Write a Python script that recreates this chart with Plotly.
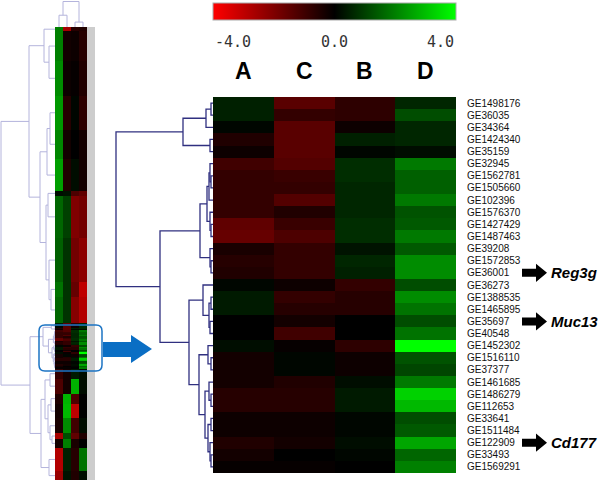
import plotly.graph_objects as go

# ---------------- data ----------------
genes = ["GE1498176", "GE36035", "GE34364", "GE1424340", "GE35159", "GE32945",
         "GE1562781", "GE1505660", "GE102396", "GE1576370", "GE1427429", "GE1487463",
         "GE39208", "GE1572853", "GE36001", "GE36273", "GE1388535", "GE1465895",
         "GE35697", "GE40548", "GE1452302", "GE1516110", "GE37377", "GE1461685",
         "GE1486279", "GE112653", "GE33641", "GE1511484", "GE122909", "GE33493",
         "GE1569291"]
samples = ["A", "C", "B", "D"]
val_A = [0.5, 0.5, 0.1, -0.5, -0.2, -1.0, -0.8, -0.8, -0.8, -0.8, -1.5, -1.6, -0.4, -0.6, -0.5,
         0.1, 0.4, 0.4, 0.0, 0.0, 0.2, -0.3, -0.3, -0.3, -0.6, -0.6, -0.2, -0.2, -0.5, -0.3, -0.1]
val_C = [-1.4, -0.8, -1.4, -1.4, -1.4, -1.3, -0.9, -0.8, -1.3, -0.5, -0.9, -1.2, -0.8, -0.8, -0.8,
         -0.2, -0.8, -0.6, -0.3, -1.0, -0.1, 0.1, 0.1, -0.5, -0.6, -0.6, -0.2, -0.2, -0.3, 0.0, -0.1]
val_B = [-0.7, -0.7, -0.2, 0.5, 0.1, 0.7, 0.7, 0.6, 0.6, 0.6, 0.7, 0.7, 0.3, 0.6, 0.5,
         -0.8, -0.6, -0.6, 0.0, 0.0, -0.7, -0.2, -0.2, 0.2, 0.4, 0.4, 0.1, 0.1, 0.2, 0.1, 0.0]
val_D = [0.6, 1.2, 0.6, 0.6, 0.2, 1.9, 1.5, 1.5, 1.9, 1.3, 1.4, 1.9, 1.4, 2.2, 2.2,
         1.2, 2.2, 1.8, 1.2, 1.8, 4.0, 1.3, 1.1, 1.9, 3.3, 2.9, 1.2, 1.4, 2.6, 1.6, 2.0]

marker_genes = ["GE36001", "GE35697", "GE122909"]
marker_symbols = ["Reg3g", "Muc13", "Cd177"]

color_ticks = [-4.0, 0.0, 4.0]

# row dendrogram of the zoomed cluster: (left, right, height)
main_tree = (
    (((0, 1, 2), 2, 7), (3, 4, 3), 30),
    (
        ((((5, (6, 7, 2), 3), 8, 4), (9, (10, 11, 2), 3), 6), (12, (13, 14, 2), 3), 13),
        ((15, ((16, 17, 2), (18, 19, 3), 4), 10),
         ((20, (21, 22, 2), 5),
          ((23, (24, 25, 2), 4), ((26, 27, 2), (28, (29, 30, 2), 3), 5), 8), 14), 24),
        53),
    97)

# overview heatmap blocks (gene counts and block values) above / below the zoomed cluster
top_counts = [3, 20, 24, 23, 20, 22, 3, 29, 30, 10, 18]
top_A = [2.0, 2.0, 2.2, 2.4, 2.1, 2.5, 0.2, 1.6, 1.5, 1.8, 1.6]
top_C = [-2.6, -0.3, -0.2, -0.6, -0.3, -0.5, 0.3, 1.0, 0.8, 0.8, 0.8]
top_B = [-0.6, -0.2, -0.1, 0.1, 0.0, 0.2, -1.2, -2.0, -1.8, -1.6, -2.1]
top_D = [-0.5, -0.6, -0.5, -0.7, -0.3, -0.3, -1.5, -1.8, -2.2, -3.0, -2.8]
bot_counts = [7, 10, 7, 10, 10, 4, 6, 16, 6]
bot_A = [-0.8, -1.2, -0.5, -0.3, -0.4, -2.6, -0.3, -2.8, -2.4]
bot_C = [-0.3, -0.3, 2.8, 2.9, 2.2, 1.2, 2.0, 0.5, 0.3]
bot_B = [0.4, 2.8, -1.2, -3.0, -1.0, -1.5, -0.4, -0.6, -0.5]
bot_D = [0.2, 0.2, 0.0, 0.0, 0.2, -0.5, 0.0, 1.8, 0.2]

# overview row tree: leaves 0-10 top blocks, 11-41 cluster genes, 42-50 bottom blocks
overview_top_tree = ((0, (1, 2, 6), 11),
                     (((3, 4, 5), 5, 8), ((6, 7, 7), (8, (9, 10, 4), 6), 9), 15), 26)
overview_bot_tree = ((((42, 43, 5), ((44, 45, 4), (46, (47, 48, 3), 5), 7), 10), (49, 50, 6), 14))
overview_box_height = 12
overview_bb_height = 25
overview_root_height = 54
column_tree = ((0, 1, 12), (2, 3, 5), 26)

# ---------------- helpers ----------------
W, H = 600, 486
def px(x):
    return x / W
def py(y):
    return 1 - y / H

def remap(node, offset, scale):
    if isinstance(node, int):
        return node + offset
    l, r, h = node
    return (remap(l, offset, scale), remap(r, offset, scale), h * scale)

def dendro(node, leaf_pos, hs, ps):
    if isinstance(node, int):
        return leaf_pos[node], 0.0
    l, r, h = node
    pl, hl = dendro(l, leaf_pos, hs, ps)
    pr, hr = dendro(r, leaf_pos, hs, ps)
    hs += [hl, h, h, hr, None]
    ps += [pl, pl, pr, pr, None]
    return (pl + pr) / 2, h

cols = {"A": val_A, "C": val_C, "B": val_B, "D": val_D}
n = len(genes)
z_main = [[cols[s][i] for s in samples] for i in range(n)]

cscale = [[0, "rgb(255,0,0)"], [0.5, "rgb(0,0,0)"], [1, "rgb(0,255,0)"]]

fig = go.Figure()

# main heatmap
fig.add_trace(go.Heatmap(
    z=z_main, x=list(range(4)), y=list(range(n)), colorscale=cscale, zmin=-4, zmax=4,
    xaxis="x", yaxis="y", hoverinfo="skip",
    colorbar=dict(orientation="h", x=px(334.5), xanchor="center", y=py(3), yanchor="top",
                  len=243 / W, lenmode="fraction", thickness=17, thicknessmode="pixels",
                  outlinewidth=1, outlinecolor="#aaaaaa", showticklabels=False, ticks="",
                  xpad=0, ypad=0)))

# main dendrogram
hs, ps = [], []
dendro(main_tree, [i for i in range(n)], hs, ps)
fig.add_trace(go.Scatter(x=hs, y=ps, mode="lines", line=dict(color="#303080", width=1.3),
                         xaxis="x2", yaxis="y2", hoverinfo="skip", showlegend=False))

# overview heatmap
row_counts = top_counts + [1] * n + bot_counts
edges = [0]
for c in row_counts:
    edges.append(edges[-1] + c)
top_cols = {"A": top_A, "C": top_C, "B": top_B, "D": top_D}
bot_cols = {"A": bot_A, "C": bot_C, "B": bot_B, "D": bot_D}
z_over = ([[top_cols[s][k] for s in samples] for k in range(len(top_counts))] + z_main +
          [[bot_cols[s][k] for s in samples] for k in range(len(bot_counts))])
fig.add_trace(go.Heatmap(z=z_over, x=list(range(4)), y=edges, colorscale=cscale, zmin=-4, zmax=4,
                         showscale=False, xaxis="x3", yaxis="y3", hoverinfo="skip"))

# overview row dendrogram
leaf_centers = [(edges[k] + edges[k + 1]) / 2 for k in range(len(row_counts))]
ntop = len(top_counts)
over_tree = (overview_top_tree,
             (remap(main_tree, ntop, overview_box_height / main_tree[2]), overview_bot_tree,
              overview_bb_height),
             overview_root_height)
hs2, ps2 = [], []
dendro(over_tree, leaf_centers, hs2, ps2)
fig.add_trace(go.Scatter(x=hs2, y=ps2, mode="lines", line=dict(color="#b4b4dc", width=1),
                         xaxis="x4", yaxis="y4", hoverinfo="skip", showlegend=False))

# overview column dendrogram
hs3, ps3 = [], []
dendro(column_tree, [0, 1, 2, 3], hs3, ps3)
fig.add_trace(go.Scatter(x=ps3, y=hs3, mode="lines", line=dict(color="#b4b4dc", width=1),
                         xaxis="x5", yaxis="y5", hoverinfo="skip", showlegend=False))

# ---------------- layout ----------------
hide = dict(showgrid=False, zeroline=False, showline=False, showticklabels=False, ticks="")
layout = dict(
    width=W, height=H, margin=dict(l=0, r=0, t=0, b=0),
    paper_bgcolor="white", plot_bgcolor="rgba(0,0,0,0)", showlegend=False,
    xaxis=dict(domain=[px(213), px(456)], range=[-0.5, 3.5], anchor="y", **hide),
    yaxis=dict(domain=[py(473), py(97)], range=[n - 0.5, -0.5], anchor="x", side="right",
               showgrid=False, zeroline=False, showline=False, ticks="",
               tickvals=list(range(n)), ticktext=genes, ticklabelstandoff=10,
               tickfont=dict(family="Liberation Sans, Arial", size=10, color="#111")),
    xaxis2=dict(domain=[px(113), px(213)], range=[100, 0], anchor="y2", **hide),
    yaxis2=dict(domain=[py(473), py(97)], range=[n - 0.5, -0.5], anchor="x2", **hide),
    xaxis3=dict(domain=[px(55), px(87)], range=[-0.5, 3.5], anchor="y3", **hide),
    yaxis3=dict(domain=[py(480), py(27)], range=[edges[-1], 0], anchor="x3", **hide),
    xaxis4=dict(domain=[0, px(55)], range=[55, 0], anchor="y4", **hide),
    yaxis4=dict(domain=[py(480), py(27)], range=[edges[-1], 0], anchor="x4", **hide),
    xaxis5=dict(domain=[px(55), px(87)], range=[-0.5, 3.5], anchor="y5", **hide),
    yaxis5=dict(domain=[py(27), py(1)], range=[0, 26.5], anchor="x5", **hide),
)

ann = []
# colorbar labels
ann.append(dict(text="-4.0", x=px(213), xanchor="left"))
ann.append(dict(text="0.0", x=px(334.5), xanchor="center"))
ann.append(dict(text="4.0", x=px(456), xanchor="right"))
for a in ann:
    a.update(xref="paper", yref="paper", y=py(42), yanchor="middle", showarrow=False,
             font=dict(family="DejaVu Sans Mono", size=15, color="#333"))
# column letters
for i, s in enumerate(samples):
    ann.append(dict(text="<b>%s</b>" % s, x=i, xref="x", y=py(71), yref="paper",
                    yanchor="middle", showarrow=False,
                    font=dict(family="Liberation Sans, Arial", size=23, color="black")))
# marker gene symbols
for g, sym in zip(marker_genes, marker_symbols):
    r = genes.index(g)
    ann.append(dict(text="<b><i>%s</i></b>" % sym, x=px(549), xref="paper", xanchor="left",
                    y=r, yref="y", yanchor="middle", showarrow=False,
                    font=dict(family="Liberation Sans, Arial", size=15, color="black")))
layout["annotations"] = ann

shapes = []
# label strip of the overview
shapes.append(dict(type="rect", xref="paper", yref="paper", x0=px(87), x1=px(95),
                   y0=py(480), y1=py(27), fillcolor="#cdcdcd", line=dict(width=0), layer="below"))
# rounded highlight box
x0, x1, y0, y1, rr = 39, 102, 325, 371, 6
box = ("M {a},{b} L {c},{b} Q {d},{b} {d},{e} L {d},{f} Q {d},{g} {c},{g} "
       "L {a},{g} Q {h},{g} {h},{f} L {h},{e} Q {h},{b} {a},{b} Z").format(
    a=px(x0 + rr), b=py(y0), c=px(x1 - rr), d=px(x1), e=py(y0 + rr), f=py(y1 - rr),
    g=py(y1), h=px(x0))
shapes.append(dict(type="path", xref="paper", yref="paper", path=box,
                   line=dict(color="#1c74c4", width=1.5)))
# blue block arrow
pts = [(103, 342), (131, 342), (131, 335), (152, 349), (131, 363), (131, 357), (103, 357)]
path = "M " + " L ".join("%f,%f" % (px(a), py(b)) for a, b in pts) + " Z"
shapes.append(dict(type="path", xref="paper", yref="paper", path=path,
                   fillcolor="#0a6ec4", line=dict(width=0)))
# black arrows pointing to marker genes
for g in marker_genes:
    r = genes.index(g)
    pts = [(522, r - 0.33), (536, r - 0.33), (536, r - 0.75), (547, r), (536, r + 0.75),
           (536, r + 0.33), (522, r + 0.33)]
    path = "M " + " L ".join("%f,%f" % (px(a), b) for a, b in pts) + " Z"
    shapes.append(dict(type="path", xref="paper", yref="y", path=path,
                       fillcolor="black", line=dict(width=0)))
layout["shapes"] = shapes

fig.update_layout(**layout)
fig.write_html("out.html", config={"displayModeBar": False},
               post_script="document.body.style.margin='0';document.body.style.padding='0';")
